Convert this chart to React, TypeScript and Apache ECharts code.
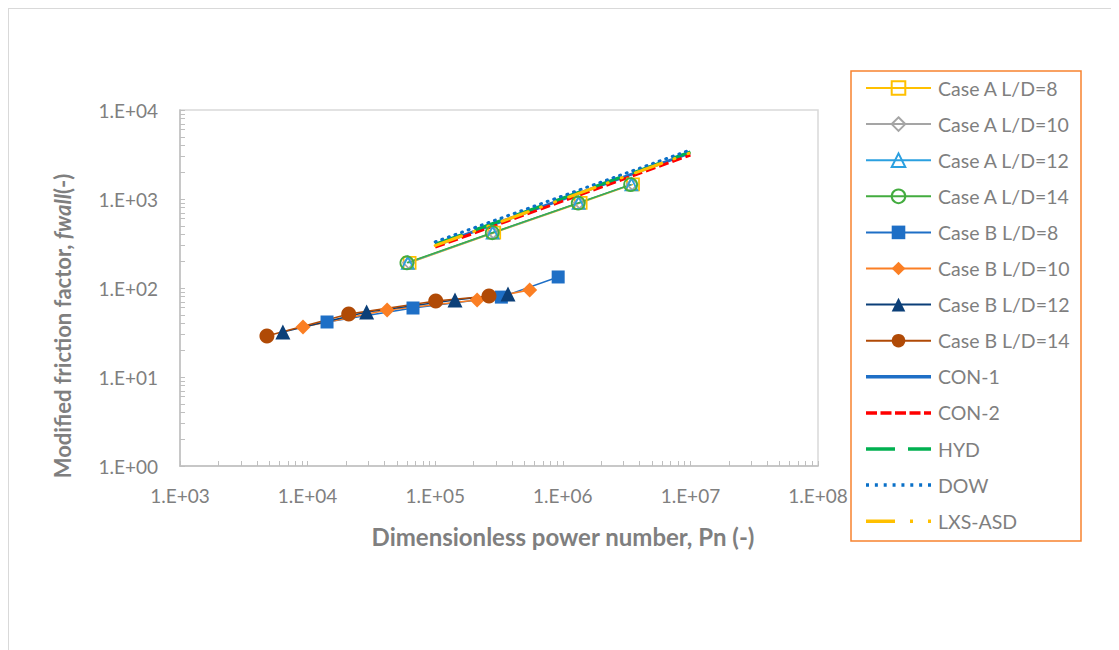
import React, { useEffect, useRef } from "react";
import * as echarts from "echarts";

// ---- Data ----
const caseA8_x = [6.3e4, 2.9e5, 1.38e6, 3.55e6];
const caseA8_y = [192, 418, 905, 1460];
const caseA10_x = [6.2e4, 2.85e5, 1.35e6, 3.5e6];
const caseA10_y = [192, 418, 905, 1460];
const caseA12_x = [6.1e4, 2.82e5, 1.33e6, 3.45e6];
const caseA12_y = [192, 418, 905, 1460];
const caseA14_x = [6.0e4, 2.8e5, 1.32e6, 3.4e6];
const caseA14_y = [192, 418, 900, 1450];

const caseB8_x = [1.42e4, 6.7e4, 3.3e5, 9.2e5];
const caseB8_y = [41.5, 59.6, 79, 133];
const caseB10_x = [9.2e3, 4.2e4, 2.13e5, 5.5e5];
const caseB10_y = [36.5, 56.6, 73.3, 95];
const caseB12_x = [6.4e3, 2.9e4, 1.43e5, 3.72e5];
const caseB12_y = [32.1, 53.7, 73.3, 85.7];
const caseB14_x = [4.8e3, 2.1e4, 1.01e5, 2.64e5];
const caseB14_y = [28.9, 51, 71.4, 81.3];

const corr_x = [1e5, 1e7];
const con1_y = [300, 3300];
const con2_y = [288, 3120];
const hyd_y = [310, 3380];
const dow_y = [330, 3560];
const lxs_y = [300, 3300];

const xTickLabels = ["1.E+03", "1.E+04", "1.E+05", "1.E+06", "1.E+07", "1.E+08"];
const yTickLabels = ["1.E+00", "1.E+01", "1.E+02", "1.E+03", "1.E+04"];

const zip = (xs: number[], ys: number[]) => xs.map((x, i) => [x, ys[i]]);

function minorTicks(fromExp: number, toExp: number): number[] {
  const out: number[] = [];
  for (let e = fromExp; e < toExp; e++) {
    for (let m = 1; m <= 10; m++) out.push(m * Math.pow(10, e));
  }
  return out;
}

// legend icons for the correlation lines (65 x 3.5 boxes)
const ICON_SOLID = "path://M0,0h65v3.5h-65z";
const ICON_DASH =
  "path://M0,0h11v3.5h-11z M14.5,0h11v3.5h-11z M29,0h11v3.5h-11z M43.5,0h11v3.5h-11z M58,0h7v3.5h-7z";
const ICON_LONGDASH = "path://M0,0h29v3.5h-29z M42,0h23v3.5h-23z";
const ICON_DOT = (() => {
  let p = "path://";
  for (let i = 0; i < 8; i++) {
    const x = i * (62 / 7);
    p += `M${x.toFixed(2)},0h3v3.5h-3z `;
  }
  return p.trim();
})();
const ICON_DASHDOT = "path://M0,0h29v3.5h-29z M44,0h3v3.5h-3z M62,0h3v3.5h-3z";

const FONT = "Lato, 'Open Sans', sans-serif";
const GREY = "#7f7f7f";

export default function App() {
  const ref = useRef<HTMLDivElement>(null);
  useEffect(() => {
    if (!ref.current) return;
    const chart = echarts.init(ref.current, undefined, { renderer: "svg" });

    const caseSeries = (
      name: string,
      xs: number[],
      ys: number[],
      color: string,
      symbol: string,
      size: number,
      hollow: boolean
    ) => ({
      name,
      type: "line",
      data: zip(xs, ys),
      symbol,
      symbolSize: size,
      showSymbol: true,
      lineStyle: { color, width: 1.5 },
      itemStyle: hollow
        ? { color: "rgba(255,255,255,0)", borderColor: color, borderWidth: 1.8 }
        : { color, borderColor: color, borderWidth: 0 },
      emphasis: { disabled: true },
    });

    const corrSeries = (
      name: string,
      ys: number[],
      color: string,
      type: any,
      cap: string = "butt"
    ) => ({
      name,
      type: "line",
      data: zip(corr_x, ys),
      symbol: "none",
      lineStyle: { color, width: 3, type, cap },
      itemStyle: { color },
      emphasis: { disabled: true },
    });

    const option: any = {
      animation: false,
      backgroundColor: "#fff",
      grid: {
        left: 172,
        top: 102,
        width: 638,
        height: 356,
        show: true,
        borderColor: "#d9d9d9",
        borderWidth: 1.5,
        containLabel: false,
      },
      xAxis: {
        type: "log",
        logBase: 10,
        min: 1e3,
        max: 1e8,
        axisLine: { show: true, lineStyle: { color: "#bfbfbf", width: 1.5 } },
        axisTick: {
          show: true,
          inside: true,
          length: 5,
          lineStyle: { color: "#bfbfbf", width: 1 },
          customValues: minorTicks(3, 8),
        },
        axisLabel: {
          color: GREY,
          fontFamily: FONT,
          fontSize: 19,
          margin: 20,
          customValues: [1e3, 1e4, 1e5, 1e6, 1e7, 1e8],
          formatter: (v: number) => xTickLabels[Math.round(Math.log10(v)) - 3],
        },
        splitLine: { show: false },
      },
      yAxis: {
        type: "log",
        logBase: 10,
        min: 1,
        max: 1e4,
        axisLine: { show: true, lineStyle: { color: "#bfbfbf", width: 1.5 } },
        axisTick: {
          show: true,
          inside: true,
          length: 5,
          lineStyle: { color: "#bfbfbf", width: 1 },
          customValues: minorTicks(0, 4),
        },
        axisLabel: {
          color: GREY,
          fontFamily: FONT,
          fontSize: 19,
          margin: 22,
          customValues: [1, 10, 100, 1000, 10000],
          formatter: (v: number) => yTickLabels[Math.round(Math.log10(v))],
        },
        splitLine: { show: false },
      },
      legend: {
        orient: "vertical",
        left: 857,
        top: 70,
        padding: 0,
        itemWidth: 65,
        itemHeight: 17,
        itemGap: 16.1,
        selectedMode: false,
        textStyle: {
          color: GREY,
          fontFamily: FONT,
          fontSize: 19.5,
          padding: [0, 0, 0, 2],
        },
        data: [
          { name: "Case A L/D=8" },
          { name: "Case A L/D=10" },
          { name: "Case A L/D=12" },
          { name: "Case A L/D=14" },
          { name: "Case B L/D=8" },
          { name: "Case B L/D=10" },
          { name: "Case B L/D=12" },
          { name: "Case B L/D=14" },
          { name: "CON-1", icon: ICON_SOLID },
          { name: "CON-2", icon: ICON_DASH },
          { name: "HYD", icon: ICON_LONGDASH },
          { name: "DOW", icon: ICON_DOT },
          { name: "LXS-ASD", icon: ICON_DASHDOT },
        ],
      },
      graphic: [
        {
          type: "rect",
          shape: { x: 0, y: 0, width: 2000, height: 2000 },
          style: { fill: "none", stroke: "#d9d9d9", lineWidth: 2 },
          silent: true,
        },
        {
          type: "rect",
          shape: { x: 843, y: 63, width: 230, height: 470 },
          style: { fill: "none", stroke: "#f7822f", lineWidth: 1.5 },
          silent: true,
        },
        {
          type: "text",
          x: 555,
          y: 528,
          style: {
            text: "Dimensionless power number, Pn (-)",
            fill: GREY,
            font: `bold 24px ${FONT}`,
            textAlign: "center",
            textVerticalAlign: "middle",
          },
          silent: true,
        },
        {
          type: "text",
          x: 54,
          y: 318,
          rotation: Math.PI / 2,
          style: {
            text: "{b|Modified friction factor, }{i|fwall}{b|(-)}",
            textAlign: "center",
            textVerticalAlign: "middle",
            rich: {
              b: { fill: GREY, fontFamily: FONT, fontWeight: "bold", fontSize: 22 },
              i: {
                fill: GREY,
                fontFamily: FONT,
                fontWeight: "bold",
                fontStyle: "italic",
                fontSize: 22,
              },
            },
          },
          silent: true,
        },
      ],
      series: [
        caseSeries("Case A L/D=8", caseA8_x, caseA8_y, "#ffc000", "rect", 12, true),
        caseSeries("Case A L/D=10", caseA10_x, caseA10_y, "#a5a5a5", "diamond", 11, true),
        caseSeries("Case A L/D=12", caseA12_x, caseA12_y, "#2ba0e0", "triangle", 12, true),
        caseSeries("Case A L/D=14", caseA14_x, caseA14_y, "#43ac3f", "circle", 13, true),
        caseSeries("Case B L/D=8", caseB8_x, caseB8_y, "#1e6fc6", "rect", 13, false),
        caseSeries("Case B L/D=10", caseB10_x, caseB10_y, "#fb7f24", "diamond", 15, false),
        caseSeries("Case B L/D=12", caseB12_x, caseB12_y, "#0b3f78", "triangle", 15, false),
        caseSeries("Case B L/D=14", caseB14_x, caseB14_y, "#b04a06", "circle", 15, false),
        corrSeries("CON-1", con1_y, "#1e6fc6", "solid"),
        corrSeries("CON-2", con2_y, "#ff0000", [10, 4]),
        corrSeries("HYD", hyd_y, "#00b050", [29, 13]),
        corrSeries("DOW", dow_y, "#0a70c8", [1, 6], "round"),
        corrSeries("LXS-ASD", lxs_y, "#ffc000", [28, 13, 1, 14, 1, 14], "round"),
      ],
    };
    chart.setOption(option);
    return () => chart.dispose();
  }, []);
  return <div ref={ref} style={{ width: 1111, height: 642 }} />;
}
